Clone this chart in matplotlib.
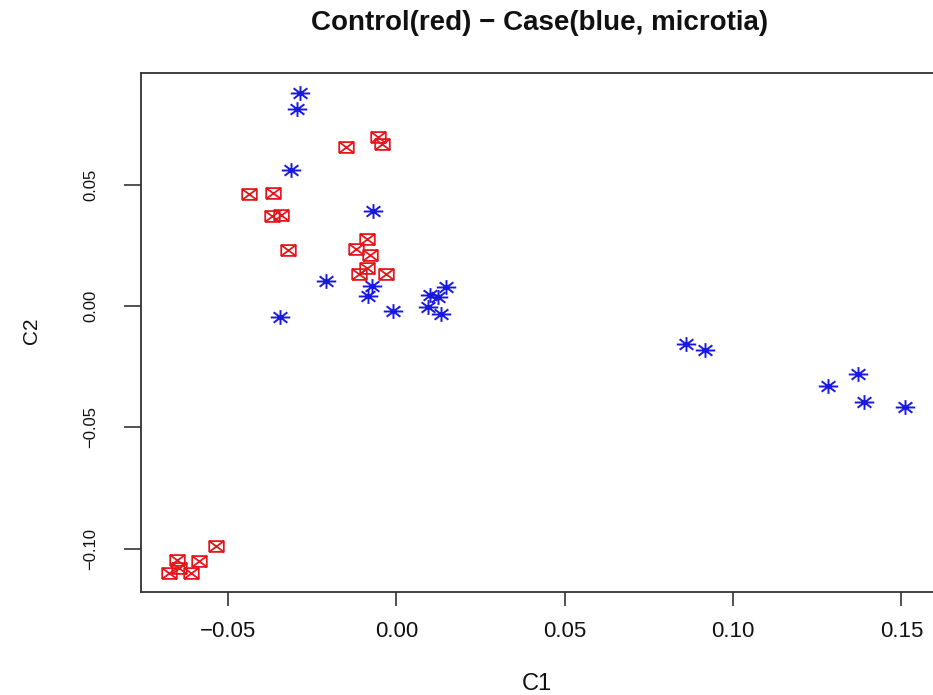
import numpy as np
import matplotlib
matplotlib.use("Agg")
import matplotlib.pyplot as plt
from matplotlib.path import Path

plt.rcParams['font.family'] = ['Liberation Sans', 'DejaVu Sans']

# Control (red) points: C1, C2
control_c1 = [-0.01485, -0.00546, -0.00416, -0.04377, -0.03682, -0.03694, -0.03435,
              -0.03219, -0.00882, -0.01188, -0.00784, -0.00873, -0.01119, -0.00318,
              -0.05365, -0.06532, -0.05870, -0.06455, -0.06752, -0.06108]
control_c2 = [0.0654, 0.0695, 0.0666, 0.0463, 0.0467, 0.0370, 0.0376,
              0.0231, 0.0276, 0.0234, 0.0210, 0.0158, 0.0132, 0.0131,
              -0.0989, -0.1047, -0.1052, -0.1081, -0.1101, -0.1101]

# Case (blue, microtia) points: C1, C2
case_c1 = [-0.02871, -0.02969, -0.03129, -0.00695, -0.02108, -0.00713, -0.00843,
           -0.03465, -0.00101, 0.01485, 0.00989, 0.01235, 0.00938, 0.01336,
           0.08610, 0.09154, 0.12815, 0.13706, 0.13904, 0.15122]
case_c2 = [0.0879, 0.0810, 0.0560, 0.0391, 0.0104, 0.0082, 0.0041,
           -0.0045, -0.0019, 0.0080, 0.0045, 0.0036, -0.0003, -0.0033,
           -0.0158, -0.0181, -0.0328, -0.0281, -0.0394, -0.0415]

xticks = [-0.05, 0.00, 0.05, 0.10, 0.15]
xtick_labels = ['\u22120.05', '0.00', '0.05', '0.10', '0.15']
yticks = [-0.10, -0.05, 0.00, 0.05]
ytick_labels = ['\u22120.10', '\u22120.05', '0.00', '0.05']

title = 'Control(red) \u2212 Case(blue, microtia)'

# custom markers (stretched horizontally like the reference)
sx, sy = 0.5, 0.37
box_x = Path([(-sx, -sy), (sx, -sy), (sx, sy), (-sx, sy), (-sx, -sy),
              (-sx, -sy), (sx, sy), (-sx, sy), (sx, -sy)],
             [Path.MOVETO, Path.LINETO, Path.LINETO, Path.LINETO, Path.LINETO,
              Path.MOVETO, Path.LINETO, Path.MOVETO, Path.LINETO])
ax_, ay_ = 0.5, 0.38
dx, dy = ax_ / np.sqrt(2), ay_ / np.sqrt(2)
star = Path([(-ax_, 0), (ax_, 0), (0, -ay_), (0, ay_),
             (-dx, -dy), (dx, dy), (-dx, dy), (dx, -dy)],
            [Path.MOVETO, Path.LINETO] * 4)

W, H = 933, 695
fig = plt.figure(figsize=(W / 100, H / 100), dpi=100)
left, right, top, bottom = 141, 935, 73, 592
ax = fig.add_axes([left / W, (H - bottom) / H, (right - left) / W, (bottom - top) / H])

red = '#e5161c'
blue = '#1818e0'
ax.plot(control_c1, control_c2, linestyle='none', marker=box_x, markersize=10.5,
        markerfacecolor='none', markeredgecolor=red, markeredgewidth=1.3)
ax.plot(case_c1, case_c2, linestyle='none', marker=star, markersize=14,
        markerfacecolor='none', markeredgecolor=blue, markeredgewidth=1.4)

ax.set_xlim(-0.0759, 0.1600)
ax.set_ylim(-0.1178, 0.0960)

ax.set_xticks(xticks)
ax.set_xticklabels(xtick_labels, fontsize=16)
ax.set_yticks(yticks)
ax.set_yticklabels(ytick_labels, fontsize=12, rotation=90, va='center')

ax.tick_params(axis='x', length=10, width=1.1, color='#222222', pad=11, labelcolor='#111111')
ax.tick_params(axis='y', length=12, width=1.1, color='#222222', pad=19, labelcolor='#111111')

for s in ax.spines.values():
    s.set_linewidth(1.3)
    s.set_color('#333333')

fig.text(540 / W, 1 - 29.5 / H, title, ha='center', va='baseline',
         fontsize=20, fontweight='bold', color='#111111')
fig.text(537 / W, 1 - 690 / H, 'C1', ha='center', va='baseline',
         fontsize=17, color='#111111')
fig.text(31 / W, 1 - 331 / H, 'C2', ha='center', va='center', rotation=90,
         fontsize=15, color='#111111')

fig.savefig('out.png', dpi=100)
